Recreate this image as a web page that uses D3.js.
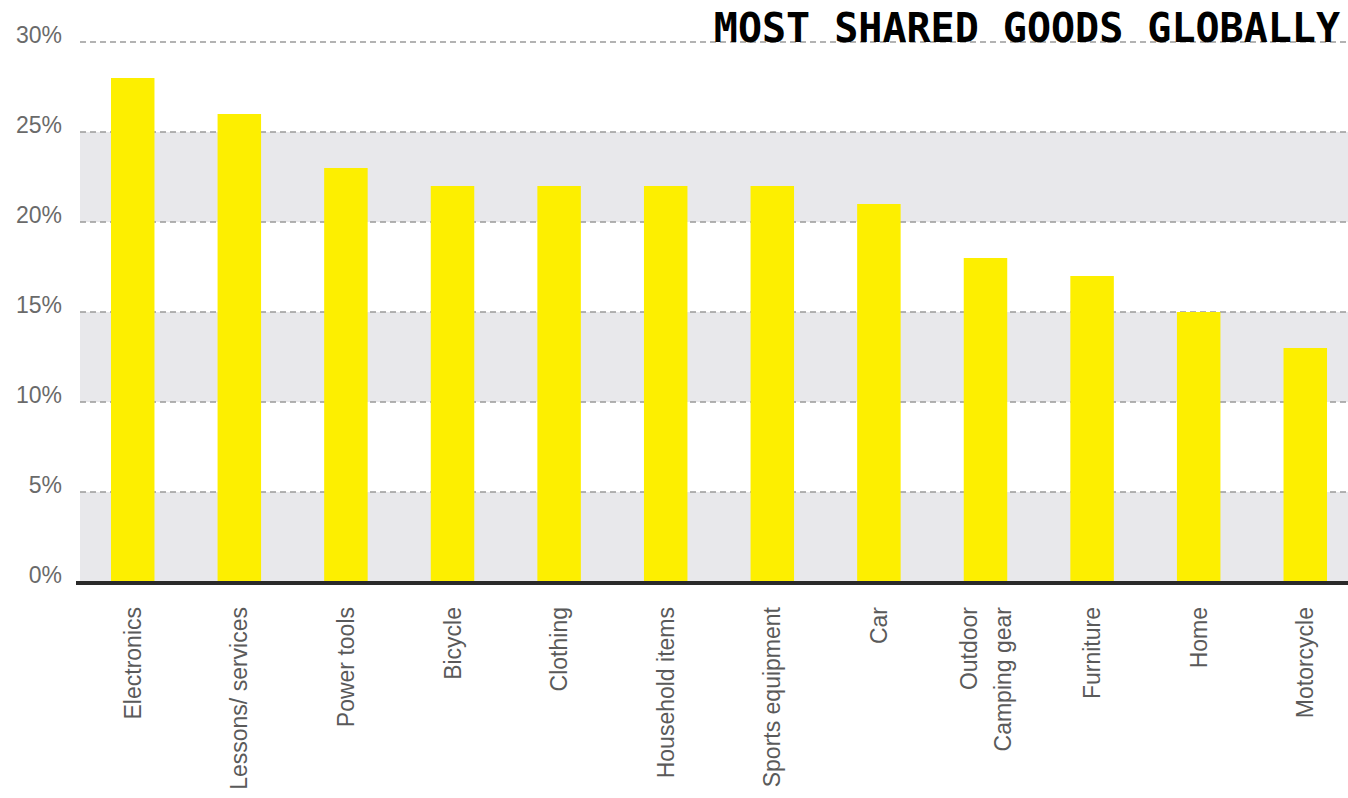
<!DOCTYPE html>
<html>
<head>
<meta charset="utf-8">
<script src="https://cdn.jsdelivr.net/npm/d3@7"></script>
<style>
	html, body { margin: 0; padding: 0; background: #fff; }
	svg { display: block; }
</style>
</head>
<body>
<div id="chart"></div>
<script>
const WIDTH = 1348;
const HEIGHT = 798;
const FONT = '"Liberation Sans", Arial, sans-serif';
const YELLOW = '#fdef00';
const BAND = '#e8e8eb';

const categories = [
	['Electronics'],
	['Lessons/ services'],
	['Power tools'],
	['Bicycle'],
	['Clothing'],
	['Household items'],
	['Sports equipment'],
	['Car'],
	['Outdoor', 'Camping gear'],
	['Furniture'],
	['Home'],
	['Motorcycle']
];
const values = [28, 26, 23, 22, 22, 22, 22, 21, 18, 17, 15, 13];
const yTicks = [0, 5, 10, 15, 20, 25, 30];
const bands = [[20, 25], [10, 15], [0, 5]];
const title = 'MOST SHARED GOODS GLOBALLY';

const scale = {
	x: d3.scaleBand()
		.domain(categories.map(d => d.join(' ')))
		.range([79, 1359])
		.paddingInner(0.592)
		.paddingOuter(0.3),
	y: d3.scaleLinear().domain([0, 30]).range([582, 42])
};

const GRID_X0 = 80;
const GRID_X1 = WIDTH;

const svg = d3.select('#chart')
	.append('svg')
	.attr('width', WIDTH)
	.attr('height', HEIGHT);

// shaded bands
svg.selectAll('.band')
	.data(bands)
	.enter()
	.append('rect')
	.attr('class', 'band')
	.attr('x', GRID_X0)
	.attr('width', GRID_X1 - GRID_X0)
	.attr('y', d => scale.y(d[1]))
	.attr('height', d => scale.y(d[0]) - scale.y(d[1]))
	.attr('fill', BAND);

// dashed grid
svg.selectAll('.grid')
	.data(yTicks.filter(t => t > 0))
	.enter()
	.append('line')
	.attr('class', 'grid')
	.attr('x1', GRID_X0)
	.attr('x2', GRID_X1)
	.attr('y1', d => scale.y(d))
	.attr('y2', d => scale.y(d))
	.attr('stroke', '#9a9a9a')
	.attr('stroke-width', 1.5)
	.attr('stroke-dasharray', '6 4');

// y labels
svg.selectAll('.ylab')
	.data(yTicks)
	.enter()
	.append('text')
	.attr('class', 'ylab')
	.attr('x', 62)
	.attr('y', d => scale.y(d) + 1)
	.attr('text-anchor', 'end')
	.attr('font-family', FONT)
	.attr('font-size', 23)
	.attr('fill', '#6a6a6a')
	.text(d => `${d}%`);

// bars
const names = categories.map(d => d.join(' '));
svg.selectAll('.bar')
	.data(values)
	.enter()
	.append('rect')
	.attr('class', 'bar')
	.attr('x', (d, i) => scale.x(names[i]))
	.attr('width', scale.x.bandwidth())
	.attr('y', d => scale.y(d))
	.attr('height', d => scale.y(0) - scale.y(d))
	.attr('fill', YELLOW);

// baseline
svg.append('line')
	.attr('x1', 76)
	.attr('x2', WIDTH)
	.attr('y1', scale.y(0) + 1)
	.attr('y2', scale.y(0) + 1)
	.attr('stroke', '#2a2a2a')
	.attr('stroke-width', 4);

// x labels, rotated
const LINE_GAP = 34;
categories.forEach((lines, i) => {
	const cx = scale.x(names[i]) + scale.x.bandwidth() / 2;
	const offset = (lines.length - 1) * LINE_GAP / 2;
	lines.forEach((t, j) => {
		const x = cx - offset + j * LINE_GAP;
		svg.append('text')
			.attr('transform', `translate(${x},607) rotate(-90)`)
			.attr('text-anchor', 'end')
			.attr('dy', '0.35em')
			.attr('font-family', FONT)
			.attr('font-size', 23)
			.attr('fill', '#5a5a5a')
			.text(t);
	});
});

// title
svg.append('text')
	.attr('x', 1340)
	.attr('y', 42)
	.attr('text-anchor', 'end')
	.attr('font-family', '"DejaVu Sans Mono", "Liberation Mono", monospace')
	.attr('font-weight', 'bold')
	.attr('font-size', 40)
	.attr('fill', '#000')
	.text(title);
</script>
</body>
</html>
